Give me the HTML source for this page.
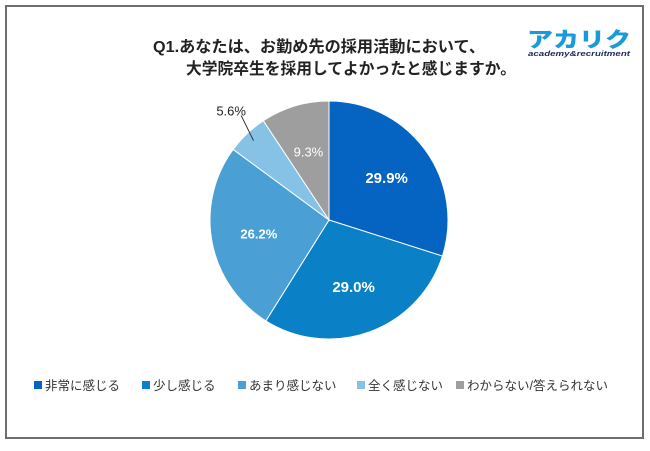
<!DOCTYPE html>
<html><head><meta charset="utf-8"><style>
body{margin:0;width:650px;height:446px;background:#fff;overflow:hidden;font-family:"Liberation Sans","Noto Sans CJK JP",sans-serif;}
</style></head><body>
<svg width="650" height="446" xmlns="http://www.w3.org/2000/svg">
<rect x="6" y="6" width="637" height="432" fill="none" stroke="#6e6e6e" stroke-width="2"/>
<g font-family="'Liberation Sans','Noto Sans CJK JP',sans-serif" font-weight="bold" font-size="16" fill="#222">
<text x="153" y="52" textLength="332" lengthAdjust="spacingAndGlyphs">Q1.あなたは、お勤め先の採用活動において、</text>
<text x="186" y="74" textLength="330" lengthAdjust="spacingAndGlyphs">大学院卒生を採用してよかったと感じますか。</text>
</g>
<g>
<text x="527" y="47" font-size="21" font-weight="900" fill="#1a9bd7" font-family="'Noto Sans CJK JP',sans-serif" textLength="104" lengthAdjust="spacingAndGlyphs">アカリク</text>
<text x="528" y="56" font-size="7" font-weight="bold" font-style="italic" fill="#1d2a5a" textLength="102" lengthAdjust="spacingAndGlyphs">academy&amp;recruitment</text>
</g>
<g id="pie"></g>
<g id="legend"></g>
</svg>
<script>
const categories=["非常に感じる","少し感じる","あまり感じない","全く感じない","わからない/答えられない"];
const values=[29.9,29.0,26.2,5.6,9.3];
const colors=["#0563c1","#0a80c7","#4a9fd4","#86c1e6","#9e9e9e"];
const legendX=[34,142,238,357,456];
const NS="http://www.w3.org/2000/svg";
const cx=329,cy=220,r=119;
const pie=document.getElementById('pie');
const total=values.reduce((a,b)=>a+b,0);
let a0=-Math.PI/2;
function pt(a,rr){return [cx+rr*Math.cos(a),cy+rr*Math.sin(a)];}
values.forEach((v,i)=>{
  const a1=a0+v/total*2*Math.PI;
  const p0=pt(a0,r),p1=pt(a1,r);
  const path=document.createElementNS(NS,'path');
  path.setAttribute('d',`M${cx},${cy}L${p0[0]},${p0[1]}A${r},${r} 0 ${a1-a0>Math.PI?1:0} 1 ${p1[0]},${p1[1]}Z`);
  path.setAttribute('fill',colors[i]);path.setAttribute('stroke','#fff');path.setAttribute('stroke-width','1');
  
  
  pie.appendChild(path);
  const am=(a0+a1)/2;
  const t=document.createElementNS(NS,'text');
  t.setAttribute('font-size', i<2?'15':'13');
  t.setAttribute('font-weight', i<3?'bold':'normal');
  t.setAttribute('text-anchor','middle');
  if(v<7){
    const pe=pt(am,r*0.92), po=pt(am,r*1.12);
    const ln=document.createElementNS(NS,'line');
    ln.setAttribute('x1',pe[0]);ln.setAttribute('y1',pe[1]);ln.setAttribute('x2',po[0]+4);ln.setAttribute('y2',po[1]-8);
    ln.setAttribute('stroke','#333');ln.setAttribute('stroke-width','1');
    
    
    pie.appendChild(ln);
    t.setAttribute('x',po[0]-6);t.setAttribute('y',po[1]-8);t.setAttribute('fill','#222');
  }else{
    const p=pt(am,r*0.6);
    t.setAttribute('x',p[0]);t.setAttribute('y',p[1]+5);t.setAttribute('fill','#fff');
  }
  t.textContent=v.toFixed(1)+'%';
  
  
  pie.appendChild(t);
  a0=a1;
});
const lg=document.getElementById('legend');
categories.forEach((c,i)=>{
  const s=document.createElementNS(NS,'rect');
  s.setAttribute('x',legendX[i]);s.setAttribute('y',381);s.setAttribute('width',8);s.setAttribute('height',8);s.setAttribute('fill',colors[i]);
  
  
  lg.appendChild(s);
  const t=document.createElementNS(NS,'text');
  t.setAttribute('x',legendX[i]+11);t.setAttribute('y',390);t.setAttribute('font-size','12.5');t.setAttribute('fill','#333');
  t.textContent=c;
  
  
  lg.appendChild(t);
});
</script>
</body></html>
